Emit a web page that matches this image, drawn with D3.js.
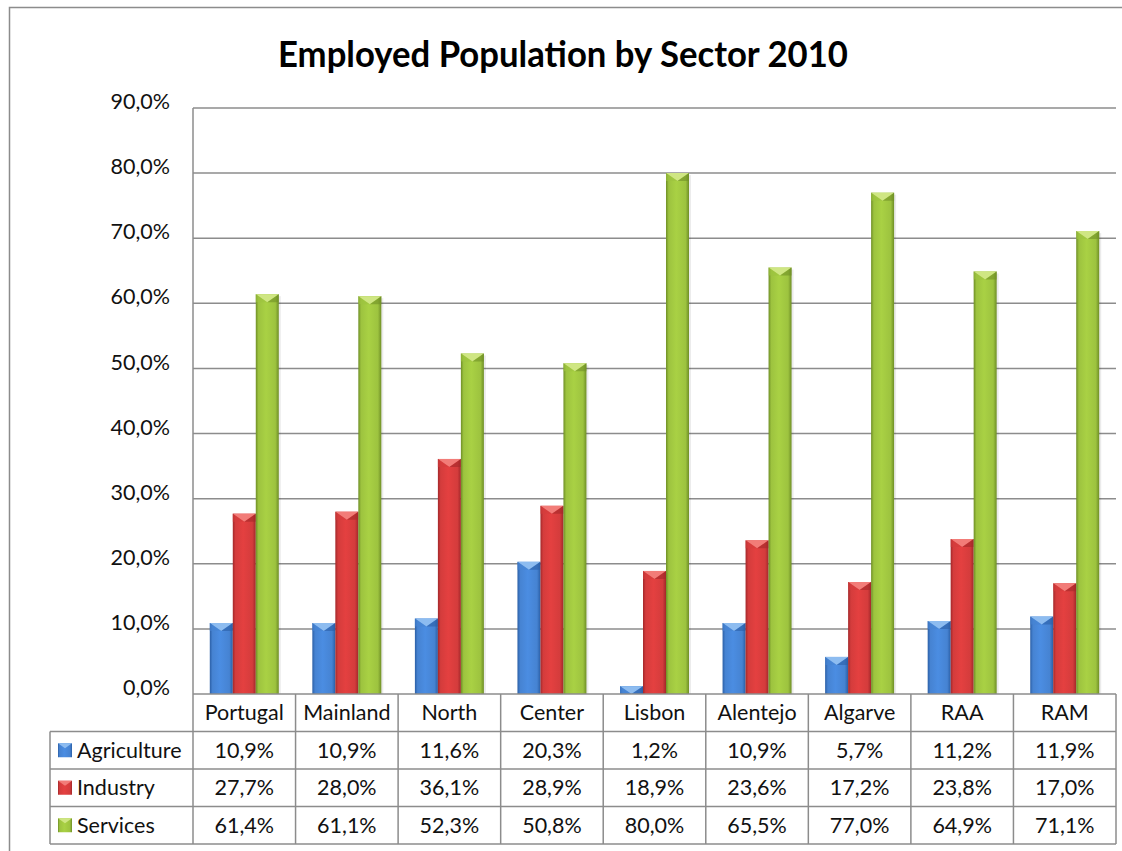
<!DOCTYPE html>
<html>
<head>
<meta charset="utf-8">
<script src="https://cdn.jsdelivr.net/npm/d3@7"></script>
<style>
  body { margin: 0; background: #fff; }
  svg { display: block; font-family: Lato, "Open Sans", sans-serif; }
</style>
</head>
<body>
<div id="container"></div>
<script>
// Data
const regions = ["Portugal", "Mainland", "North", "Center", "Lisbon", "Alentejo", "Algarve", "RAA", "RAM"];
const sectors = ["Agriculture", "Industry", "Services"];
const agriculture = [10.9, 10.9, 11.6, 20.3, 1.2, 10.9, 5.7, 11.2, 11.9];
const industry = [27.7, 28.0, 36.1, 28.9, 18.9, 23.6, 17.2, 23.8, 17.0];
const services = [61.4, 61.1, 52.3, 50.8, 80.0, 65.5, 77.0, 64.9, 71.1];
const yTicks = [0, 10, 20, 30, 40, 50, 60, 70, 80, 90];

const seriesValues = { Agriculture: agriculture, Industry: industry, Services: services };

// colours per sector: [edge, main, highlight]
const palette = {
    Agriculture: ["#2b5fa6", "#4683d2", "#8dbcf0"],
    Industry: ["#a3282a", "#d43c3c", "#f27c78"],
    Services: ["#6f8f26", "#9dc33f", "#cfe683"]
};

const W = 1122, H = 851;
const plot = { left: 193, right: 1116, top: 108, bottom: 694 };
const rowH = 37.5;
const fontSize = 21.5;

const locale = d3.formatLocale({ decimal: ",", thousands: ".", grouping: [3], currency: ["", "€"] });
const fmt = locale.format(".1f");

const x = d3.scaleBand()
    .domain(regions)
    .range([plot.left, plot.right]);

const x1 = d3.scaleBand()
    .domain(sectors)
    .range([0, x.bandwidth()])
    .paddingOuter(0.73);

const y = d3.scaleLinear()
    .domain([0, 90])
    .range([plot.bottom, plot.top]);

const svg = d3.select("#container")
    .append("svg")
    .attr("width", W)
    .attr("height", H);

// gradients for the bevelled bars
const defs = svg.append("defs");
sectors.forEach(s => {
    const [edge, main, hi] = palette[s];
    const g = defs.append("linearGradient")
        .attr("id", `grad-${s}`)
        .attr("x1", "0").attr("x2", "1").attr("y1", "0").attr("y2", "0");
    g.append("stop").attr("offset", "0%").attr("stop-color", edge);
    g.append("stop").attr("offset", "12%").attr("stop-color", main);
    g.append("stop").attr("offset", "45%").attr("stop-color", d3.color(main).brighter(0.2));
    g.append("stop").attr("offset", "85%").attr("stop-color", main);
    g.append("stop").attr("offset", "100%").attr("stop-color", edge);
});

// outer frame
svg.append("rect")
    .attr("x", 9.5).attr("y", 7.5)
    .attr("width", W + 20).attr("height", H + 20)
    .attr("fill", "none")
    .attr("stroke", "#8c8c8c")
    .attr("stroke-width", 1.5);

// title
svg.append("text")
    .attr("x", 563)
    .attr("y", 67)
    .attr("text-anchor", "middle")
    .attr("font-weight", "bold")
    .attr("font-size", 37)
    .attr("textLength", 570)
    .attr("lengthAdjust", "spacingAndGlyphs")
    .text("Employed Population by Sector 2010");

// gridlines
svg.append("g")
    .selectAll("line")
    .data(yTicks.filter(d => d > 0))
    .join("line")
    .attr("x1", plot.left).attr("x2", plot.right)
    .attr("y1", d => y(d)).attr("y2", d => y(d))
    .attr("stroke", "#8c8c8c")
    .attr("stroke-width", 1.5);

// y labels
svg.append("g")
    .selectAll("text")
    .data(yTicks)
    .join("text")
    .attr("x", 170)
    .attr("y", d => y(d))
    .attr("dy", "0.05em")
    .attr("text-anchor", "end")
    .attr("font-size", fontSize)
    .attr("fill", "#111")
    .text(d => fmt(d) + "%");

// left axis line
svg.append("line")
    .attr("x1", plot.left).attr("x2", plot.left)
    .attr("y1", plot.top).attr("y2", plot.bottom)
    .attr("stroke", "#8c8c8c")
    .attr("stroke-width", 1.5);

// bars
const groups = svg.append("g")
    .selectAll("g")
    .data(regions)
    .join("g")
    .attr("transform", d => `translate(${x(d)},0)`);

groups.each(function (region, i) {
    const g = d3.select(this);
    sectors.forEach(s => {
        const v = seriesValues[s][i];
        const bx = x1(s), bw = x1.bandwidth();
        const top = y(v), h = plot.bottom - top;
        const [edge, main, hi] = palette[s];
        // faint shadow
        g.append("rect")
            .attr("x", bx + 2).attr("y", top + 2)
            .attr("width", bw).attr("height", h - 2)
            .attr("fill", "#000").attr("opacity", 0.08);
        g.append("rect")
            .attr("x", bx).attr("y", top)
            .attr("width", bw).attr("height", h)
            .attr("fill", `url(#grad-${s})`);
        // top bevel
        const bev = Math.min(8, h);
        g.append("path")
            .attr("d", `M${bx},${top}L${bx + bw},${top}L${bx + bw / 2},${top + bev}Z`)
            .attr("fill", hi);
        g.append("path")
            .attr("d", `M${bx},${top}L${bx + bw / 2},${top + bev}L${bx},${top + bev}Z`)
            .attr("fill", main).attr("opacity", 0.6);
        g.append("path")
            .attr("d", `M${bx + bw},${top}L${bx + bw / 2},${top + bev}L${bx + bw},${top + bev}Z`)
            .attr("fill", edge).attr("opacity", 0.6);
    });
});

// data table
const table = svg.append("g");
const tableTop = plot.bottom;
const legendLeft = 50;
const tableBottom = tableTop + rowH * 4;
const lineStyle = sel => sel.attr("stroke", "#8c8c8c").attr("stroke-width", 1.5).attr("fill", "none");

// horizontal lines
table.append("line").call(lineStyle)
    .attr("x1", plot.left).attr("x2", plot.right)
    .attr("y1", tableTop).attr("y2", tableTop);
[1, 2, 3, 4].forEach(r => {
    table.append("line").call(lineStyle)
        .attr("x1", legendLeft).attr("x2", plot.right)
        .attr("y1", tableTop + r * rowH).attr("y2", tableTop + r * rowH);
});
// vertical lines
table.append("line").call(lineStyle)
    .attr("x1", legendLeft).attr("x2", legendLeft)
    .attr("y1", tableTop + rowH).attr("y2", tableBottom);
regions.forEach(r => {
    table.append("line").call(lineStyle)
        .attr("x1", x(r)).attr("x2", x(r))
        .attr("y1", tableTop).attr("y2", tableBottom);
});
table.append("line").call(lineStyle)
    .attr("x1", plot.right).attr("x2", plot.right)
    .attr("y1", tableTop).attr("y2", tableBottom);

// header labels
table.selectAll("text.head")
    .data(regions)
    .join("text")
    .attr("class", "head")
    .attr("x", d => x(d) + x.bandwidth() / 2)
    .attr("y", tableTop + rowH / 2)
    .attr("dy", "0.36em")
    .attr("text-anchor", "middle")
    .attr("font-size", fontSize)
    .attr("fill", "#111")
    .text(d => d);

sectors.forEach((s, si) => {
    const cy = tableTop + rowH * (si + 1) + rowH / 2;
    const [edge, main, hi] = palette[s];
    // legend key
    const kx = 58, ks = 14, ky = cy - 7;
    table.append("rect")
        .attr("x", kx).attr("y", ky).attr("width", ks).attr("height", ks)
        .attr("fill", `url(#grad-${s})`);
    table.append("path")
        .attr("d", `M${kx},${ky}L${kx + ks},${ky}L${kx + ks / 2},${ky + 5}Z`)
        .attr("fill", hi);
    table.append("text")
        .attr("x", 77)
        .attr("y", cy)
        .attr("dy", "0.36em")
        .attr("font-size", fontSize)
        .attr("fill", "#111")
        .text(s);
    table.selectAll(`text.v${si}`)
        .data(seriesValues[s])
        .join("text")
        .attr("class", `v${si}`)
        .attr("x", (d, i) => x(regions[i]) + x.bandwidth() / 2)
        .attr("y", cy)
        .attr("dy", "0.36em")
        .attr("text-anchor", "middle")
        .attr("font-size", fontSize)
        .attr("fill", "#111")
        .text(d => fmt(d) + "%");
});
</script>
</body>
</html>
